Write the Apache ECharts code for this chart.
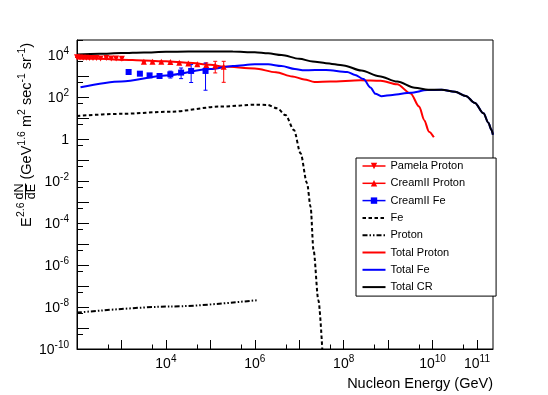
<!DOCTYPE html>
<html>
<head>
<meta charset="utf-8">
<script src="https://cdn.jsdelivr.net/npm/echarts@6/dist/echarts.min.js"></script>
<style>
html, body { margin: 0; padding: 0; background: #fff; }
#chart { width: 548px; height: 395px; }
</style>
</head>
<body>
<div id="chart"></div>
<script>
var FONT = "'Liberation Sans', Arial, Helvetica, sans-serif";

// energies in GeV, fluxes as E^2.6 dN/dE
var totalCrE = [1e2, 3.2e2, 1e3, 3.2e3, 1e4, 3.2e4, 1e5, 3.2e5, 1e6, 2e6, 4e6, 1e7, 2e7, 4e7, 1e8, 2.5e8, 6.3e8, 1.6e9, 4e9, 8e9, 1.6e10, 3.2e10, 5.6e10, 9e10, 1.4e11, 1.8e11, 2.1e11, 2.28e11];
var totalCrFlux = [1.07e4, 1.15e4, 1.23e4, 1.32e4, 1.41e4, 1.48e4, 1.48e4, 1.45e4, 1.35e4, 1.2e4, 1.0e4, 6.6e3, 4.9e3, 4.1e3, 3.2e3, 1.82e3, 9.8e2, 5.4e2, 2.75e2, 2.2e2, 2.2e2, 1.78e2, 1.12e2, 52, 16.6, 6.0, 2.8, 1.6];

var totalProtonE = [1e2, 3.2e2, 1e3, 3.2e3, 1e4, 3.2e4, 1e5, 2e5, 1e6, 3e6, 7e6, 1.3e7, 2.2e7, 5e7, 2.4e8, 6.8e8, 1.6e9, 3.2e9, 5e9, 6.5e9, 8.3e9, 1.07e10];
var totalProtonFlux = [6.9e3, 6.6e3, 6.0e3, 5.5e3, 5.0e3, 4.3e3, 3.4e3, 2.8e3, 2.3e3, 1.5e3, 9.5e2, 6.9e2, 5.2e2, 5.4e2, 6.3e2, 6.0e2, 4.0e2, 1.48e2, 35, 7.9, 2.24, 1.2];

var totalFeE = [1.2e2, 1e3, 1e4, 1e5, 3.2e5, 1e6, 2e6, 4e6, 8e6, 1.3e7, 4e7, 1.2e8, 1.8e8, 2.8e8, 4e8, 5.2e8, 7e8, 1.26e9, 3.2e9, 7.6e9, 1.6e10, 3.2e10, 5.6e10, 9e10, 1.4e11, 1.8e11, 2.1e11, 2.28e11];
var totalFeFlux = [2.9e2, 5.5e2, 1.07e3, 2.14e3, 3.0e3, 3.6e3, 3.6e3, 3.0e3, 2.14e3, 1.86e3, 1.95e3, 1.55e3, 1.12e3, 7.1e2, 2.8e2, 1.41e2, 1.10e2, 1.26e2, 1.58e2, 2.14e2, 2.2e2, 1.78e2, 1.12e2, 52, 16.6, 6.0, 2.8, 1.6];

var feE = [1e2, 1e3, 1.26e4, 1.7e5, 1.1e6, 1.9e6, 3.2e6, 4.9e6, 7.6e6, 1.07e7, 1.5e7, 1.8e7, 2.1e7, 2.7e7, 3.3e7];
var feFlux = [12.6, 15.8, 20, 35, 43, 42, 29, 13.8, 2.7, 0.21, 7.8e-3, 6.0e-4, 5e-6, 2.1e-8, 1e-10];

var protonE = [1e2, 1.26e4, 1.1e6];
var protonFlux = [5.4e-9, 1.05e-8, 2.1e-8];

var pamelaE = [100, 117, 138, 162, 190, 229, 275, 339, 457, 589, 759, 1023];
var pamelaFlux = [7.8e3, 7.6e3, 7.4e3, 7.4e3, 7.2e3, 7.1e3, 7.1e3, 6.9e3, 7.1e3, 6.9e3, 6.8e3, 6.6e3];
var pamelaLow = [7.6e3, 7.4e3, 7.2e3, 7.2e3, 7.0e3, 6.9e3, 6.8e3, 6.6e3, 6.7e3, 6.4e3, 6.1e3, 5.7e3];
var pamelaHigh = [8.0e3, 7.8e3, 7.6e3, 7.6e3, 7.4e3, 7.3e3, 7.4e3, 7.2e3, 7.5e3, 7.4e3, 7.5e3, 7.5e3];

var creamPE = [3.2e3, 5e3, 7.9e3, 1.26e4, 2.0e4, 3.2e4, 5.1e4, 8.1e4, 1.29e5, 2.0e5];
var creamPFlux = [4.8e3, 4.8e3, 4.8e3, 4.7e3, 4.3e3, 3.9e3, 3.6e3, 3.3e3, 3.2e3, 2.75e3];
var creamPLow = [4.6e3, 4.6e3, 4.6e3, 4.5e3, 4.1e3, 3.6e3, 3.2e3, 2.4e3, 1.4e3, 5.0e2];
var creamPHigh = [5.0e3, 5.0e3, 5.0e3, 4.9e3, 4.5e3, 4.2e3, 4.0e3, 4.2e3, 5.0e3, 5.0e3];

var creamFeE = [1.45e3, 2.6e3, 4.3e3, 7.2e3, 1.26e4, 2.2e4, 3.7e4, 7.8e4];
var creamFeFlux = [1.55e3, 1.29e3, 1.07e3, 1.0e3, 1.2e3, 1.45e3, 1.74e3, 1.74e3];
var creamFeLow = [1.45e3, 1.2e3, 9.8e2, 9.0e2, 8.0e2, 7.5e2, 4.9e2, 2.1e2];
var creamFeHigh = [1.65e3, 1.38e3, 1.16e3, 1.1e3, 1.7e3, 2.4e3, 3.5e3, 4.1e3];

// axes are in decades (log10 of the values)
var xMin = 2, xMax = 11.36;
var yMin = -10, yMax = 4.714;
var xLabelExp = [4, 6, 8, 10, 11];
var yLabelExp = [-10, -8, -6, -4, -2, 0, 2, 4];

var range = function (a, b, off) {
    var out = [];
    for (var i = a; i <= b; i++) out.push(i + off);
    return out;
};
var xMajor = range(2, 11, 0);
var xMinor = range(2, 10, Math.log10(5));
var yMajor = range(-10, 4, 0);
var yMinor = range(-10, 4, Math.log10(5));

var pts = function (es, fs) {
    return es.map(function (e, i) { return [Math.log10(e), Math.log10(fs[i])]; });
};
var bars = function (es, lo, hi) {
    return es.map(function (e, i) { return [Math.log10(e), Math.log10(lo[i]), Math.log10(hi[i])]; });
};

// superscripts: base text sits at the bottom of the line, exponent at the top
var rich = {
    b: { fontSize: 14, fontFamily: FONT, color: '#000', lineHeight: 17, verticalAlign: 'bottom' },
    s: { fontSize: 10, fontFamily: FONT, color: '#000', lineHeight: 10, verticalAlign: 'top' }
};
var titleRich = {
    b: { fontSize: 14.5, fontFamily: FONT, color: '#000', lineHeight: 17.5, verticalAlign: 'bottom' },
    s: { fontSize: 10.5, fontFamily: FONT, color: '#000', lineHeight: 10.5, verticalAlign: 'top' }
};
var powLabel = function (v) {
    var n = Math.round(v);
    return n === 0 ? '{b|1}' : '{b|10}{s|' + n + '}';
};

var curve = function (name, es, fs, color, type) {
    return {
        name: name, type: 'line', data: pts(es, fs),
        symbol: 'none', smooth: 0.3, smoothMonotone: 'x',
        lineStyle: { color: color, width: 2, type: type || 'solid' },
        itemStyle: { color: color }, z: 3, silent: true
    };
};
var markers = function (name, es, fs, color, symbol, size, rotate) {
    return {
        name: name, type: 'line', data: pts(es, fs),
        symbol: symbol, symbolSize: size, symbolRotate: rotate || 0,
        lineStyle: { color: color, width: 0 },
        itemStyle: { color: color }, z: 5, silent: true
    };
};
var errorBars = function (es, lo, hi, color) {
    return {
        type: 'custom', data: bars(es, lo, hi), z: 4, silent: true,
        renderItem: function (params, api) {
            var x = api.value(0);
            var a = api.coord([x, api.value(1)]);
            var b = api.coord([x, api.value(2)]);
            var st = { stroke: color, lineWidth: 1 };
            return {
                type: 'group', children: [
                    { type: 'line', shape: { x1: a[0], y1: a[1], x2: b[0], y2: b[1] }, style: st },
                    { type: 'line', shape: { x1: a[0] - 2, y1: a[1], x2: a[0] + 2, y2: a[1] }, style: st },
                    { type: 'line', shape: { x1: b[0] - 2, y1: b[1], x2: b[0] + 2, y2: b[1] }, style: st }
                ]
            };
        }
    };
};

var chart = echarts.init(document.getElementById('chart'));

var option = {
    animation: false,
    backgroundColor: '#fff',
    grid: { left: 77, right: 55, top: 40, bottom: 46, show: true, borderColor: '#000', borderWidth: 1 },
    xAxis: [{
        type: 'value', min: xMin, max: xMax,
        axisLine: { onZero: false, lineStyle: { color: '#000', width: 1 } },
        axisTick: { inside: true, length: 9, customValues: xMajor, lineStyle: { color: '#000' } },
        axisLabel: { customValues: xLabelExp, formatter: powLabel, rich: rich, margin: 5 },
        splitLine: { show: false }
    }, {
        type: 'value', min: xMin, max: xMax, position: 'bottom',
        axisLine: { show: false, onZero: false },
        axisTick: { inside: true, length: 4.5, customValues: xMinor, lineStyle: { color: '#000' } },
        axisLabel: { show: false },
        splitLine: { show: false }
    }],
    yAxis: [{
        type: 'value', min: yMin, max: yMax,
        axisLine: { onZero: false, lineStyle: { color: '#000', width: 1 } },
        axisTick: { inside: true, length: 12, customValues: yMajor, lineStyle: { color: '#000' } },
        axisLabel: { customValues: yLabelExp, formatter: powLabel, rich: rich, margin: 8 },
        splitLine: { show: false }
    }, {
        type: 'value', min: yMin, max: yMax, position: 'left',
        axisLine: { show: false, onZero: false },
        axisTick: { inside: true, length: 6, customValues: yMinor, lineStyle: { color: '#000' } },
        axisLabel: { show: false },
        splitLine: { show: false }
    }],
    legend: {
        orient: 'vertical', left: 356, top: 158,
        padding: [1, 31, 2, 5.5],
        itemWidth: 23, itemHeight: 8, itemGap: 3.3,
        backgroundColor: '#fff', borderColor: '#000', borderWidth: 1, borderRadius: 0,
        selectedMode: false,
        textStyle: { fontSize: 11, fontFamily: FONT, color: '#000', lineHeight: 14 },
        data: [
            { name: 'Pamela Proton', lineStyle: { width: 1.5 } },
            { name: 'CreamII Proton', lineStyle: { width: 1.5 } },
            { name: 'CreamII Fe', lineStyle: { width: 1.5 } },
            { name: 'Fe', itemStyle: { opacity: 0 } },
            { name: 'Proton', itemStyle: { opacity: 0 } },
            { name: 'Total Proton', itemStyle: { opacity: 0 } },
            { name: 'Total Fe', itemStyle: { opacity: 0 } },
            { name: 'Total CR', itemStyle: { opacity: 0 } }
        ]
    },
    graphic: [{
        type: 'group', x: 32, y: 227, rotation: Math.PI / 2,
        children: [
            { type: 'text', x: 0, y: -5, style: { text: 'E', font: '14.5px ' + FONT, fill: '#000', verticalAlign: 'middle' } },
            { type: 'text', x: 10, y: -10.5, style: { text: '2.6', font: '10.5px ' + FONT, fill: '#000', verticalAlign: 'middle' } },
            { type: 'text', x: 35.5, y: -12.5, style: { text: 'dN', font: '12.5px ' + FONT, fill: '#000', align: 'center', verticalAlign: 'middle' } },
            { type: 'line', shape: { x1: 27.5, y1: -6.5, x2: 43.5, y2: -6.5 }, style: { stroke: '#000', lineWidth: 1 } },
            { type: 'text', x: 35.5, y: -0.5, style: { text: 'dE', font: '12.5px ' + FONT, fill: '#000', align: 'center', verticalAlign: 'middle' } },
            { type: 'text', x: 47.5, y: -6.5, style: {
                text: '{b|(GeV}{s|1.6}{b| m}{s|2}{b| sec}{s|-1}{b| sr}{s|-1}{b|)}',
                rich: titleRich, verticalAlign: 'middle'
            } }
        ]
    }, {
        type: 'text', right: 55, top: 376,
        style: { text: 'Nucleon Energy (GeV)', font: '14.5px ' + FONT, fill: '#000' }
    }],
    series: [
        errorBars(pamelaE, pamelaLow, pamelaHigh, '#ff0000'),
        errorBars(creamPE, creamPLow, creamPHigh, '#ff0000'),
        errorBars(creamFeE, creamFeLow, creamFeHigh, '#0000ff'),
        markers('Pamela Proton', pamelaE, pamelaFlux, '#ff0000', 'triangle', 6, 180),
        markers('CreamII Proton', creamPE, creamPFlux, '#ff0000', 'triangle', 6),
        markers('CreamII Fe', creamFeE, creamFeFlux, '#0000ff', 'rect', 6),
        curve('Fe', feE, feFlux, '#000', [3.5, 2.5]),
        curve('Proton', protonE, protonFlux, '#000', [5, 2, 1.5, 2, 1.5, 2]),
        curve('Total Proton', totalProtonE, totalProtonFlux, '#ff0000'),
        curve('Total Fe', totalFeE, totalFeFlux, '#0000ff'),
        curve('Total CR', totalCrE, totalCrFlux, '#000')
    ]
};

chart.setOption(option);
</script>
</body>
</html>
